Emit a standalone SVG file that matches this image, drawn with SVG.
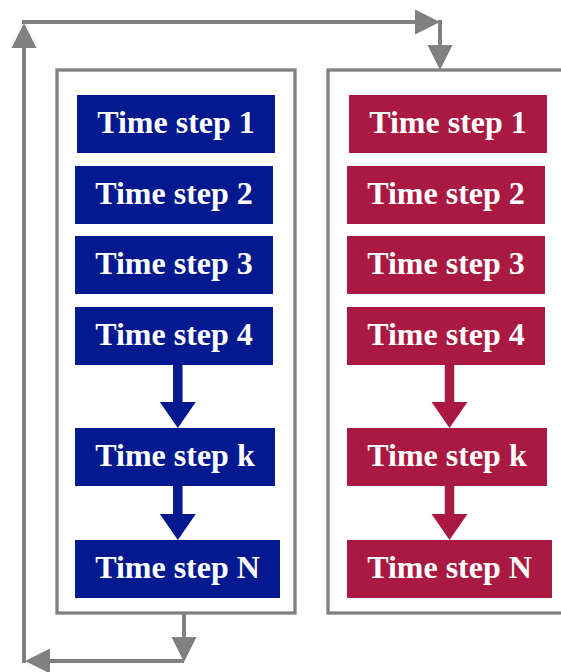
<svg xmlns="http://www.w3.org/2000/svg" width="561" height="672" viewBox="0 0 561 672">
<style>
.frame{fill:none;stroke:#808080;stroke-width:3.3}
.conn{fill:none;stroke:#808080;stroke-width:4;marker-end:url(#ag)}
.b{fill:#03198F}
.r{fill:#AA1942}
.t{font-family:"Liberation Serif","Times New Roman",serif;font-weight:bold;font-size:32px;fill:#ffffff;text-anchor:middle}
.ba{fill:none;stroke:#03198F;stroke-width:9.5;marker-end:url(#ab)}
.ra{fill:none;stroke:#AA1942;stroke-width:9.5;marker-end:url(#ar)}
</style>
<defs>
<marker id="ag" markerUnits="userSpaceOnUse" markerWidth="26" markerHeight="26" refX="0" refY="12.5" orient="auto" overflow="visible"><path d="M0,0 L25,12.5 L0,25 z" fill="#808080"/></marker>
<marker id="ab" markerUnits="userSpaceOnUse" markerWidth="27" markerHeight="36" refX="0" refY="18" orient="auto" overflow="visible"><path d="M0,0 L26,18 L0,36 z" fill="#03198F"/></marker>
<marker id="ar" markerUnits="userSpaceOnUse" markerWidth="27" markerHeight="36" refX="0" refY="18" orient="auto" overflow="visible"><path d="M0,0 L26,18 L0,36 z" fill="#AA1942"/></marker>
</defs>
<rect width="561" height="672" fill="#ffffff"/>
<g id="frame-left"><rect class="frame" x="57" y="70" width="238" height="543"/></g>
<g id="frame-right"><rect class="frame" x="328" y="70" width="245" height="543"/></g>
<g id="connectors">
<path class="conn" d="M184,613 L184,637"/>
<path class="conn" d="M184,661 L50,661"/>
<path class="conn" d="M24,663 L24,48"/>
<path class="conn" d="M22,22 L415,22"/>
<path class="conn" d="M440,20 L440,45"/>
<path class="ba" d="M177.8,364 L177.8,402"/>
<path class="ba" d="M177.8,485 L177.8,514"/>
<path class="ra" d="M449.5,364 L449.5,402"/>
<path class="ra" d="M449.5,485 L449.5,514"/>
</g>
<g id="b1"><rect class="b" x="77" y="95" width="198" height="58"/><text class="t" x="176" y="133">Time step 1</text></g>
<g id="b2"><rect class="b" x="75" y="166" width="198" height="58"/><text class="t" x="174" y="204">Time step 2</text></g>
<g id="b3"><rect class="b" x="75" y="236" width="198" height="58"/><text class="t" x="174" y="274">Time step 3</text></g>
<g id="b4"><rect class="b" x="75" y="307" width="198" height="58"/><text class="t" x="174" y="345">Time step 4</text></g>
<g id="bk"><rect class="b" x="75" y="428" width="200" height="58"/><text class="t" x="175" y="466">Time step k</text></g>
<g id="bN"><rect class="b" x="75" y="540" width="205" height="58"/><text class="t" x="177.5" y="578">Time step N</text></g>
<g id="r1"><rect class="r" x="349" y="95" width="198" height="58"/><text class="t" x="448" y="133">Time step 1</text></g>
<g id="r2"><rect class="r" x="347" y="166" width="198" height="58"/><text class="t" x="446" y="204">Time step 2</text></g>
<g id="r3"><rect class="r" x="347" y="236" width="198" height="58"/><text class="t" x="446" y="274">Time step 3</text></g>
<g id="r4"><rect class="r" x="347" y="307" width="198" height="58"/><text class="t" x="446" y="345">Time step 4</text></g>
<g id="rk"><rect class="r" x="347" y="428" width="200" height="58"/><text class="t" x="447" y="466">Time step k</text></g>
<g id="rN"><rect class="r" x="347" y="540" width="205" height="58"/><text class="t" x="449.5" y="578">Time step N</text></g>
</svg>
